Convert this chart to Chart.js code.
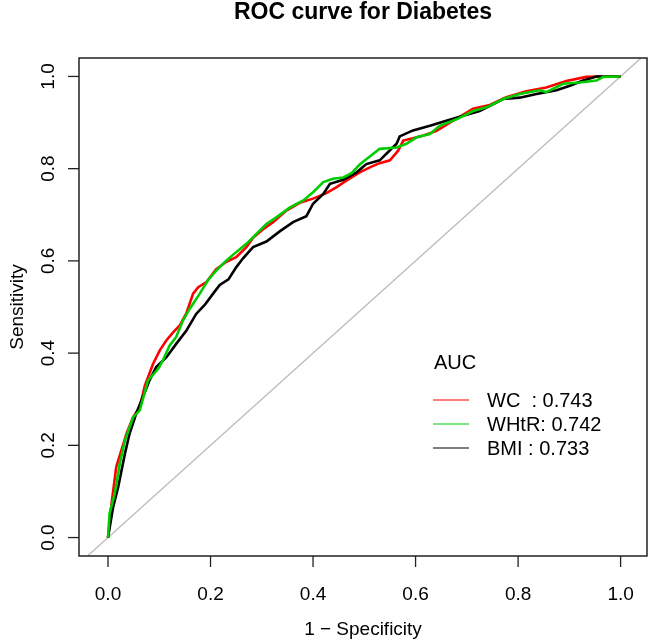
<!DOCTYPE html>
<html>
<head>
<meta charset="utf-8">
<script src="https://cdn.jsdelivr.net/npm/chart.js@4.4.1/dist/chart.umd.min.js"></script>
<style>
  html, body { margin: 0; padding: 0; background: #fff; }
  #wrap { width: 650px; height: 639px; }
</style>
</head>
<body>
<div id="wrap"><canvas id="roc" width="650" height="639"></canvas></div>
<script>
// ROC points: x = 1 - specificity, y = sensitivity
const wcX = [0, 0.007, 0.016, 0.026, 0.036, 0.049, 0.062, 0.072, 0.088, 0.101, 0.114, 0.127, 0.14, 0.153, 0.166, 0.176, 0.192, 0.211, 0.231, 0.25, 0.27, 0.283, 0.302, 0.322, 0.348, 0.374, 0.4, 0.426, 0.446, 0.465, 0.491, 0.515, 0.53, 0.55, 0.566, 0.576, 0.595, 0.615, 0.641, 0.667, 0.69, 0.712, 0.745, 0.777, 0.816, 0.855, 0.894, 0.933, 0.96, 1.0]
const wcY = [0, 0.074, 0.153, 0.189, 0.225, 0.261, 0.283, 0.33, 0.377, 0.406, 0.428, 0.445, 0.46, 0.487, 0.529, 0.543, 0.554, 0.582, 0.598, 0.608, 0.63, 0.65, 0.668, 0.684, 0.709, 0.726, 0.735, 0.747, 0.76, 0.774, 0.792, 0.805, 0.812, 0.818, 0.839, 0.861, 0.866, 0.872, 0.882, 0.9, 0.915, 0.93, 0.938, 0.955, 0.968, 0.976, 0.99, 0.999, 1.0, 1.0]

const whtrX = [0, 0.003, 0.013, 0.023, 0.033, 0.049, 0.062, 0.078, 0.098, 0.107, 0.12, 0.133, 0.146, 0.156, 0.166, 0.179, 0.195, 0.211, 0.231, 0.25, 0.27, 0.29, 0.309, 0.329, 0.355, 0.381, 0.4, 0.42, 0.439, 0.459, 0.475, 0.491, 0.53, 0.563, 0.582, 0.602, 0.628, 0.647, 0.68, 0.712, 0.738, 0.771, 0.803, 0.842, 0.855, 0.888, 0.92, 0.953, 0.966, 1.0]
const whtrY = [0, 0.052, 0.095, 0.16, 0.211, 0.261, 0.276, 0.341, 0.366, 0.384, 0.416, 0.435, 0.47, 0.49, 0.507, 0.529, 0.558, 0.579, 0.601, 0.619, 0.637, 0.659, 0.68, 0.695, 0.716, 0.731, 0.749, 0.771, 0.778, 0.781, 0.79, 0.809, 0.843, 0.846, 0.854, 0.868, 0.875, 0.893, 0.907, 0.925, 0.933, 0.951, 0.962, 0.97, 0.966, 0.984, 0.987, 0.991, 0.999, 1.0]

const bmiX = [0, 0.01, 0.02, 0.033, 0.042, 0.055, 0.068, 0.081, 0.094, 0.114, 0.133, 0.153, 0.172, 0.189, 0.205, 0.218, 0.235, 0.25, 0.263, 0.283, 0.309, 0.335, 0.361, 0.387, 0.4, 0.42, 0.433, 0.459, 0.485, 0.504, 0.53, 0.55, 0.563, 0.569, 0.595, 0.628, 0.66, 0.693, 0.725, 0.771, 0.803, 0.836, 0.875, 0.901, 0.927, 0.953, 1.0]
const bmiY = [0, 0.066, 0.11, 0.182, 0.225, 0.269, 0.305, 0.341, 0.37, 0.391, 0.42, 0.449, 0.485, 0.505, 0.529, 0.548, 0.56, 0.586, 0.605, 0.63, 0.642, 0.664, 0.684, 0.697, 0.724, 0.745, 0.767, 0.776, 0.792, 0.81, 0.818, 0.84, 0.854, 0.87, 0.883, 0.893, 0.904, 0.915, 0.925, 0.951, 0.954, 0.962, 0.97, 0.98, 0.991, 1.0, 1.0]

// chance line, clipped by the plot box
const diagX = [-0.2, 1.2]
const diagY = [-0.2, 1.2]

const seriesNames = ['WC', 'WHtR', 'BMI']
const aucValues = [0.743, 0.742, 0.733]
const seriesColours = ['#FF0000', '#00CD00', '#000000']

const tickValues = [0, 0.2, 0.4, 0.6, 0.8, 1]
const tickLabels = ['0.0', '0.2', '0.4', '0.6', '0.8', '1.0']

const chartTitle = 'ROC curve for Diabetes'
const xTitle = '1 \u2212 Specificity'
const yTitle = 'Sensitivity'
const legendTitle = 'AUC'

const FONT = '"Liberation Sans", Arial, Helvetica, sans-serif'

function toPoints (xs, ys) {
  return xs.map((x, i) => ({ x, y: ys[i] }))
}

function seg (ctx, x1, y1, x2, y2) {
  ctx.beginPath()
  ctx.moveTo(x1, y1)
  ctx.lineTo(x2, y2)
  ctx.stroke()
}

// draws the R style frame: box, outside ticks, rotated y labels, titles, legend
const rFrame = {
  id: 'rFrame',
  afterDraw (chart) {
    const { ctx, chartArea: a, scales } = chart
    ctx.save()
    ctx.strokeStyle = '#222'
    ctx.lineWidth = 1.5
    ctx.strokeRect(a.left, a.top, a.right - a.left, a.bottom - a.top)

    ctx.fillStyle = '#000'
    ctx.lineWidth = 1.3
    ctx.font = '19px ' + FONT
    ctx.textAlign = 'center'
    ctx.textBaseline = 'alphabetic'
    tickValues.forEach((v, i) => {
      const px = scales.x.getPixelForValue(v)
      seg(ctx, px, a.bottom, px, a.bottom + 11)
      ctx.fillText(tickLabels[i], px, a.bottom + 44)

      const py = scales.y.getPixelForValue(v)
      seg(ctx, a.left - 11, py, a.left, py)
      ctx.save()
      ctx.translate(a.left - 25, py)
      ctx.rotate(-Math.PI / 2)
      ctx.fillText(tickLabels[i], 0, 0)
      ctx.restore()
    })

    const cx = (a.left + a.right) / 2
    const cy = (a.top + a.bottom) / 2
    ctx.fillText(xTitle, cx, a.bottom + 79)
    ctx.save()
    ctx.translate(a.left - 56, cy)
    ctx.rotate(-Math.PI / 2)
    ctx.fillText(yTitle, 0, 0)
    ctx.restore()

    ctx.font = 'bold 23px ' + FONT
    ctx.fillText(chartTitle, cx, 19)

    // legend
    ctx.font = '20px ' + FONT
    ctx.textAlign = 'left'
    ctx.fillText(legendTitle, 434, 369)
    ctx.lineWidth = 1.2
    seriesNames.forEach((name, i) => {
      const ry = 400 + i * 24
      ctx.strokeStyle = seriesColours[i]
      seg(ctx, 433, ry, 469, ry)
      ctx.fillText(name.padEnd(4, ' ') + ': ' + aucValues[i].toFixed(3), 487, ry + 7)
    })
    ctx.restore()
  }
}

const curve = (label, xs, ys, colour) => ({
  label,
  data: toPoints(xs, ys),
  borderColor: colour,
  borderWidth: 2.6,
  pointRadius: 0,
  tension: 0,
  fill: false
})

new Chart(document.getElementById('roc'), { // eslint-disable-line
  type: 'scatter',
  data: {
    datasets: [
      curve('WHtR', whtrX, whtrY, seriesColours[1]),
      curve('BMI', bmiX, bmiY, seriesColours[2]),
      curve('WC', wcX, wcY, seriesColours[0]),
      {
        label: 'chance',
        data: toPoints(diagX, diagY),
        borderColor: '#BEBEBE',
        borderWidth: 1.4,
        pointRadius: 0,
        fill: false
      }
    ]
  },
  options: {
    responsive: false,
    animation: false,
    events: [],
    showLine: true,
    layout: {
      padding: { left: 79, top: 58, right: 3, bottom: 83 }
    },
    plugins: {
      legend: { display: false },
      tooltip: { enabled: false }
    },
    scales: {
      x: { type: 'linear', display: false, min: -0.0566, max: 1.0515 },
      y: { type: 'linear', display: false, min: -0.04, max: 1.04 }
    }
  },
  plugins: [rFrame]
})
</script>
</body>
</html>
